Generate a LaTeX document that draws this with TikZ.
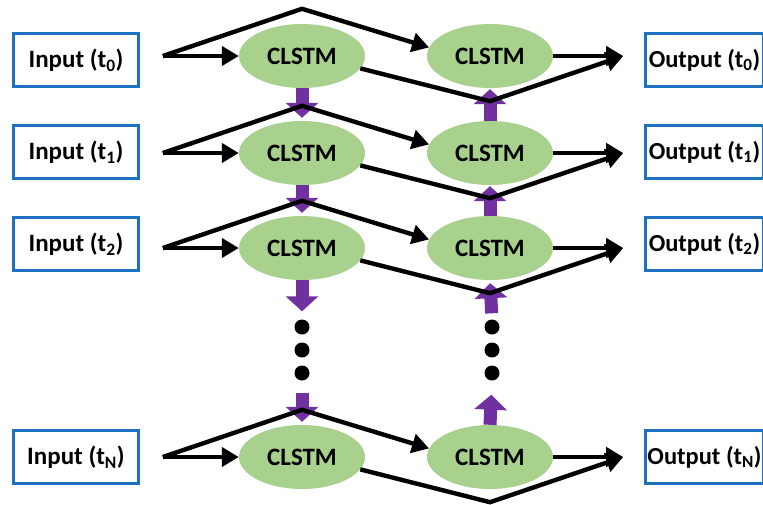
\documentclass[tikz,border=0pt]{standalone}
\usepackage{fontspec}
\setmainfont{Carlito}
\usetikzlibrary{shapes.geometric,arrows.meta,calc}
\definecolor{boxblue}{RGB}{30,112,192}
\definecolor{cgreen}{RGB}{169,209,142}
\definecolor{cpurple}{RGB}{112,48,160}
\begin{document}
\begin{tikzpicture}[x=1pt,y=-1pt,
  iobox/.style={draw=boxblue, line width=3pt, fill=white, minimum width=125pt, minimum height=53pt, inner sep=0pt, font=\fontsize{25}{29}\selectfont\bfseries},
  outbox/.style={iobox, minimum width=118pt, font=\fontsize{24.5}{29}\selectfont\bfseries},
  cell/.style={ellipse, fill=cgreen, minimum width=126pt, minimum height=64pt, inner sep=0pt, font=\fontsize{25}{29}\selectfont\bfseries},
  flow/.style={draw=black, line width=4.4pt, line join=miter, -{Triangle[length=17pt,width=19pt]}},
  pass/.style={draw=cpurple, line width=13pt, -{Triangle[length=15pt,width=32pt]}},
  dotnode/.style={circle, fill=black, minimum size=15pt, inner sep=0pt}
]
\path[use as bounding box, clip] (0,0) rectangle (763,504);
\fill[white] (0,0) rectangle (763,504);

% nodes
\foreach \n/\y/\b in {0/56/60,1/153/152,2/248/244,N/457/457}{
  \node[iobox] (I\n) at (76,\b) {Input (t\textsubscript{\n})};
  \node[cell] (L\n) at (302,\y) {CLSTM};
  \node[cell] (R\n) at (490,\y) {CLSTM};
  \node[outbox, anchor=west] (O\n) at (644,\b) {Output (t\textsubscript{\n})};
}
% output boxes continue past the right edge
\foreach \n in {0,1,2,N}{
  \draw[boxblue, line width=3pt] (O\n.north east) -- ++(12,0);
  \draw[boxblue, line width=3pt] (O\n.south east) -- ++(12,0);
  \fill[white] ($(O\n.north east)+(-1.4,1.6)$) rectangle ($(O\n.south east)+(12,-1.6)$);
}

% dots
\node[dotnode] (DL1) at (302,327) {};
\node[dotnode] (DL2) at (302,350) {};
\node[dotnode] (DL3) at (302,373) {};
\node[dotnode] (DR1) at (492,327) {};
\node[dotnode] (DR2) at (492,350) {};
\node[dotnode] (DR3) at (492,373) {};

% purple passes (left: down, right: up)
\draw[pass, shorten >=3pt] (L0.south) -- (L1.north);
\draw[pass, shorten >=3pt] (L1.south) -- (L2.north);
\draw[pass, shorten >=8pt] (L2.south) -- (DL1.north);
\draw[pass, shorten <=12pt, shorten >=3pt] (DL3.south) -- (LN.north);
\draw[pass, shorten >=1pt] (R1.north) -- (R0.south);
\draw[pass, shorten >=1pt] (R2.north) -- (R1.south);
\draw[pass, shorten <=6pt, shorten >=3pt] (DR1.north) -- (R2.south);
\draw[pass, shorten >=14pt] (RN.north) -- (DR3.south);

% black flows
\foreach \n in {0,1,2,N}{
  \coordinate (F\n) at ($(L\n.west)+(-76,0)$);
  \coordinate (P\n) at ($(L\n.north)+(0,-15)$);
  \coordinate (V\n) at ($(R\n.south)+(0,13)$);
  \coordinate (T\n) at ($(R\n.east)+(70,0)$);
  \draw[flow] (F\n) -- (L\n.west);
  \draw[flow] (F\n) -- (P\n) -- (R\n.172);
  \draw[flow] (L\n.-12) -- (V\n) -- (T\n);
  \draw[flow] (R\n.east) -- (T\n);
}
\end{tikzpicture}
\end{document}
